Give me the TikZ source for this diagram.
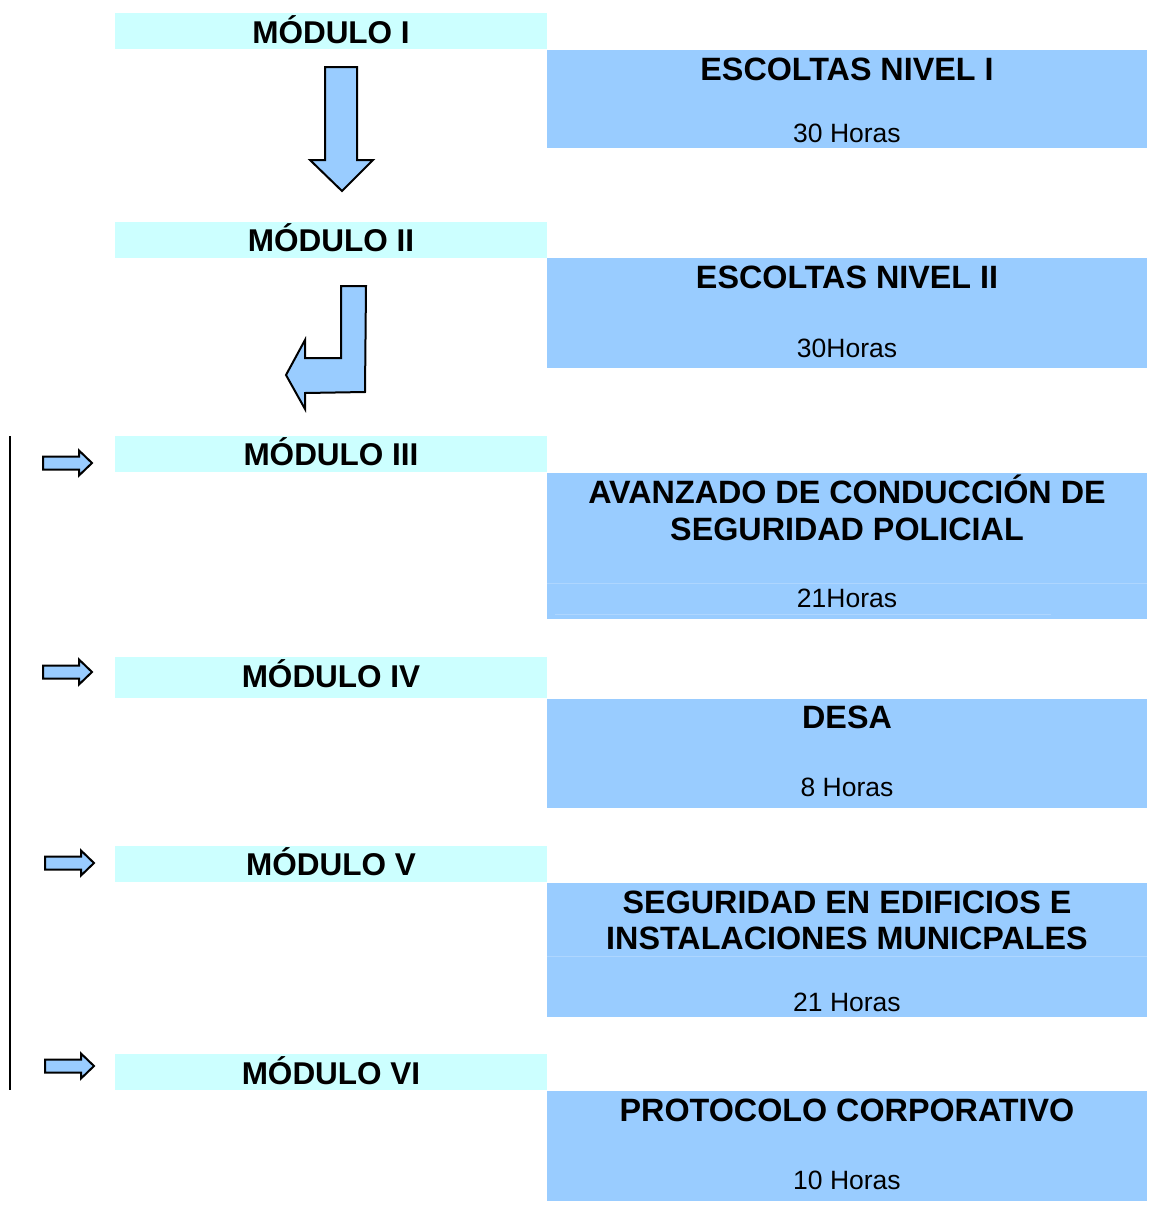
\documentclass[tikz,border=0pt]{standalone}
\usepackage{fontspec}
\setmainfont{Liberation Sans}
\definecolor{modcyan}{HTML}{CCFFFF}
\definecolor{boxblue}{HTML}{99CCFF}
\definecolor{faintline}{HTML}{AED6FF}
\newcommand\smallrarrow[2]{%
  \draw[blockarrow] (#1,#2-6.5) -- (#1+36,#2-6.5) -- (#1+36,#2-12.5) -- (#1+49,#2)
    -- (#1+36,#2+12.5) -- (#1+36,#2+6.5) -- (#1,#2+6.5) -- cycle;}
\begin{document}
\begin{tikzpicture}[x=1pt,y=-1pt,
  modbox/.style={fill=modcyan, draw=none, inner sep=0pt, anchor=north west, minimum width=432pt},
  bluebox/.style={fill=boxblue, draw=none, inner sep=0pt, anchor=north west, minimum width=600pt},
  modtxt/.style={anchor=base, inner sep=0pt, font=\fontsize{31.5}{36}\selectfont\bfseries},
  titletxt/.style={anchor=base, inner sep=0pt, align=center, font=\fontsize{32.3}{36.5}\selectfont\bfseries},
  hourtxt/.style={anchor=base, inner sep=0pt, font=\fontsize{26.5}{30}\selectfont},
  blockarrow/.style={draw=black, fill=boxblue, line width=2pt, line join=miter}]
\useasboundingbox (0,0) rectangle (1152,1213);

% module boxes
\node[modbox, minimum height=36pt] (m1) at (115,13) {};
\node[modbox, minimum height=36pt] (m2) at (115,222) {};
\node[modbox, minimum height=36pt] (m3) at (115,436) {};
\node[modbox, minimum height=41pt] (m4) at (115,657) {};
\node[modbox, minimum height=36pt] (m5) at (115,846) {};
\node[modbox, minimum height=36pt] (m6) at (115,1054) {};

% blue boxes
\node[bluebox, minimum height=98pt] (b1) at (547,50) {};
\node[bluebox, minimum height=110pt] (b2) at (547,258) {};
\node[bluebox, minimum height=146pt] (b3) at (547,473) {};
\node[bluebox, minimum height=109pt] (b4) at (547,699) {};
\node[bluebox, minimum height=134pt] (b5) at (547,883) {};
\node[bluebox, minimum height=110pt] (b6) at (547,1091) {};

% faint lines
\draw[faintline, line width=0.6pt] (547,583) -- (1147,583);
\draw[faintline, line width=0.6pt] (555,614) -- (1051,614);
\draw[faintline, line width=0.6pt] (547,956) -- (1147,956);

% module labels
\node[modtxt] (t1) at (331,43) {MÓDULO I};
\node[modtxt] (t2) at (331,251) {MÓDULO II};
\node[modtxt] (t3) at (331,465) {MÓDULO III};
\node[modtxt] (t4) at (331,687) {MÓDULO IV};
\node[modtxt] (t5) at (331,875) {MÓDULO V};
\node[modtxt] (t6) at (331,1084) {MÓDULO VI};

% box titles
\node[titletxt] (h1) at (847,80) {ESCOLTAS NIVEL I};
\node[hourtxt] (r1) at (847,142) {30 Horas};
\node[titletxt] (h2) at (847,288) {ESCOLTAS NIVEL II};
\node[hourtxt] (r2) at (847,357) {30Horas};
\node[titletxt] (h3a) at (847,503) {AVANZADO DE CONDUCCIÓN DE};
\node[titletxt] (h3b) at (847,540) {SEGURIDAD POLICIAL};
\node[hourtxt] (r3) at (847,607) {21Horas};
\node[titletxt] (h4) at (847,728) {DESA};
\node[hourtxt] (r4) at (847,796) {8 Horas};
\node[titletxt] (h5a) at (847,913) {SEGURIDAD EN EDIFICIOS E};
\node[titletxt] (h5b) at (847,949) {INSTALACIONES MUNICPALES};
\node[hourtxt] (r5) at (847,1011) {21 Horas};
\node[titletxt] (h6) at (847,1121) {PROTOCOLO CORPORATIVO};
\node[hourtxt] (r6) at (847,1189) {10 Horas};

% down arrow
\draw[blockarrow] (325,67) -- (357,67) -- (357,160) -- (373,160) -- (342,191)
  -- (310,160) -- (325,160) -- cycle;

% bent arrow
\draw[blockarrow] (341,286) -- (366,286) -- (365,392) -- (305,393) -- (305,409)
  -- (286,375) -- (305,340) -- (305,358) -- (341,358) -- cycle;

% vertical line
\draw[line width=1.3pt] (10,436) -- (10,1090);

% small right arrows
\smallrarrow{43}{463}
\smallrarrow{43}{672}
\smallrarrow{45}{863}
\smallrarrow{45}{1066}
\end{tikzpicture}
\end{document}
